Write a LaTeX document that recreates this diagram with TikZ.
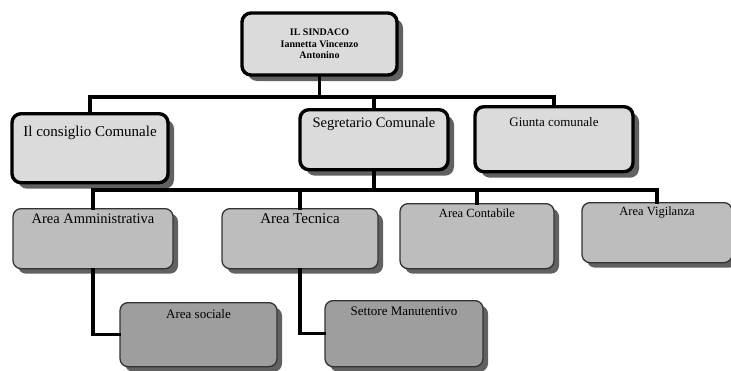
\documentclass[tikz,border=0pt]{standalone}
\usepackage{fontspec}
\setmainfont{Liberation Serif}
\usetikzlibrary{shadows}
\definecolor{chiaro}{gray}{0.86}
\definecolor{medio}{gray}{0.74}
\definecolor{scuro}{gray}{0.62}
\definecolor{ombra}{gray}{0.38}
\newcommand\fz[1]{\fontsize{#1}{#1}\selectfont}
\tikzset{
  capo/.style={draw=black, line width=3.4pt, rounded corners=9pt, fill=chiaro,
    inner xsep=4pt, inner ysep=0pt, anchor=north,
    drop shadow={shadow xshift=6pt, shadow yshift=-6pt, fill=ombra, opacity=1}},
  area/.style={draw=black!80, line width=1.3pt, rounded corners=8pt, fill=medio,
    inner xsep=4pt, inner ysep=0pt, anchor=north,
    drop shadow={shadow xshift=5pt, shadow yshift=-5pt, fill=ombra, opacity=1}},
  settore/.style={area, fill=scuro},
  linea/.style={line width=3.4pt, line cap=rect}
}
\begin{document}
\begin{tikzpicture}[x=1pt, y=-1pt]
  \path[use as bounding box, fill=white] (0,0) rectangle (731,370);
  % vertice
  \node[capo, anchor=center, align=center, minimum width=155pt, minimum height=62pt,
    font=\bfseries\fontsize{10}{11.5}\selectfont] (sin) at (319.5,44)
    {IL SINDACO\\Iannetta Vincenzo\\Antonino};
  % primo livello
  \node[capo, minimum width=156pt, text height=23pt, text depth=46pt, font=\fz{15}]
    (con) at (90,112) {Il consiglio Comunale};
  \node[capo, minimum width=148pt, text height=18pt, text depth=42pt, font=\fz{14.5}]
    (seg) at (374,108) {Segretario Comunale};
  \node[capo, minimum width=158pt, text height=20pt, text depth=45pt, font=\fz{13}]
    (giu) at (554,105) {Giunta comunale};
  % aree
  \node[area, minimum width=160pt, text height=15pt, text depth=45pt, font=\fz{14.5}]
    (amm) at (93,208) {Area Amministrativa};
  \node[area, minimum width=156pt, text height=15pt, text depth=45pt, font=\fz{15}]
    (tec) at (300,208) {Area Tecnica};
  \node[area, minimum width=154pt, text height=14pt, text depth=51pt, font=\fz{12.5}]
    (cnt) at (477,203) {Area Contabile};
  \node[area, minimum width=150pt, text height=13pt, text depth=47pt, font=\fz{12.5}]
    (vig) at (657,202) {Area Vigilanza};
  % settori
  \node[settore, minimum width=157pt, text height=16pt, text depth=48pt, font=\fz{13}]
    (soc) at (198.5,302) {Area sociale};
  \node[settore, minimum width=158pt, text height=15pt, text depth=51pt, font=\fz{13}]
    (man) at (404,300) {Settore Manutentivo};
  % collegamenti
  \coordinate (b1) at (0,97);
  \coordinate (b2) at (0,190);
  \draw[linea] (sin.south) -- (sin.south |- b1);
  \draw[linea] (con.north) |- (b1 -| giu.north) -- (giu.north);
  \draw[linea] (seg.north) -- (seg.north |- b1);
  \draw[linea] (seg.south) -- (seg.south |- b2);
  \draw[linea] (amm.north) |- (b2 -| vig.north) -- (vig.north);
  \draw[linea] (tec.north) -- (tec.north |- b2);
  \draw[linea] (cnt.north) -- (cnt.north |- b2);
  \draw[linea] (amm.south) |- (soc.west);
  \draw[linea] (tec.south) |- (man.west);
\end{tikzpicture}
\end{document}
